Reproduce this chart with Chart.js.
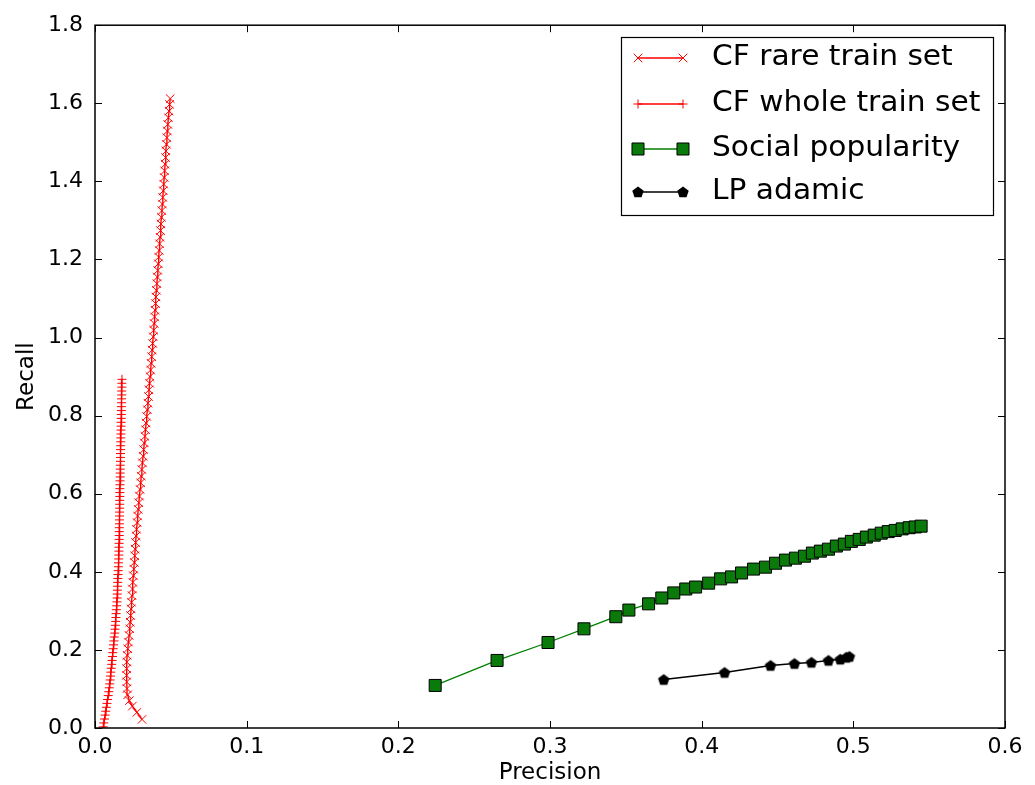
<!DOCTYPE html>
<html>
<head>
<meta charset="utf-8">
<script src="https://cdn.jsdelivr.net/npm/chart.js@4/dist/chart.umd.min.js"></script>
<style>
html,body{margin:0;padding:0;background:#fff;}
#wrap{width:1035px;height:785px;}
</style>
</head>
<body>
<div id="wrap"><canvas id="c" width="1035" height="785"></canvas></div>
<script>
// ---------- DATA ----------
const seriesNames = ["CF rare train set", "CF whole train set", "Social popularity", "LP adamic"];
const xTickLabels = ["0.0", "0.1", "0.2", "0.3", "0.4", "0.5", "0.6"];
const yTickLabels = ["0.0", "0.2", "0.4", "0.6", "0.8", "1.0", "1.2", "1.4", "1.6", "1.8"];
const xAxisTitle = "Precision";
const yAxisTitle = "Recall";

const rarePrecision = [0.0310,0.0276,0.0246,0.0226,0.0215,0.0211,0.0209,0.0208,0.0209,0.0210,
  0.0212,0.0216,0.0221,0.0225,0.0229,0.0232,0.0235,0.0238,0.0241,0.0244,
  0.0247,0.0250,0.0253,0.0256,0.0259,0.0262,0.0265,0.0268,0.0271,0.0274,
  0.0278,0.0281,0.0285,0.0289,0.0293,0.0297,0.0301,0.0305,0.0309,0.0313,
  0.0317,0.0321,0.0325,0.0329,0.0333,0.0337,0.0341,0.0345,0.0349,0.0353,
  0.0356,0.0360,0.0363,0.0367,0.0370,0.0374,0.0377,0.0380,0.0384,0.0387,
  0.0390,0.0393,0.0396,0.0399,0.0402,0.0405,0.0408,0.0411,0.0414,0.0417,
  0.0420,0.0423,0.0426,0.0429,0.0432,0.0435,0.0438,0.0441,0.0444,0.0447,
  0.0450,0.0453,0.0456,0.0459,0.0462,0.0465,0.0468,0.0471,0.0474,0.0477,
  0.0480,0.0484,0.0488,0.0492,0.0496];
const rareRecall = [0.022,0.040,0.056,0.070,0.085,0.101,0.118,0.135,0.152,0.169,
  0.186,0.203,0.220,0.237,0.254,0.271,0.288,0.305,0.322,0.339,
  0.356,0.373,0.390,0.407,0.424,0.441,0.458,0.475,0.492,0.509,
  0.526,0.543,0.560,0.577,0.594,0.611,0.628,0.645,0.662,0.679,
  0.696,0.713,0.730,0.747,0.764,0.781,0.798,0.815,0.832,0.849,
  0.866,0.883,0.900,0.917,0.934,0.951,0.968,0.985,1.002,1.019,
  1.036,1.053,1.070,1.087,1.104,1.121,1.138,1.155,1.172,1.189,
  1.206,1.223,1.240,1.257,1.274,1.291,1.308,1.325,1.342,1.359,
  1.376,1.393,1.410,1.427,1.444,1.461,1.478,1.495,1.512,1.529,
  1.546,1.563,1.580,1.597,1.612];

const wholePrecision = [0.0054,0.0058,0.0063,0.0067,0.0071,0.0075,0.0079,0.0083,0.0087,0.0091,
  0.0094,0.0097,0.0100,0.0102,0.0105,0.0107,0.0110,0.0112,0.0115,0.0117,
  0.0120,0.0122,0.0125,0.0127,0.0130,0.0132,0.0134,0.0136,0.0138,0.0139,
  0.0141,0.0143,0.0145,0.0146,0.0147,0.0148,0.0149,0.0150,0.0151,0.0152,
  0.0153,0.0154,0.0155,0.0156,0.0157,0.0158,0.0158,0.0159,0.0159,0.0160,
  0.0160,0.0160,0.0161,0.0161,0.0162,0.0162,0.0163,0.0163,0.0163,0.0164,
  0.0164,0.0164,0.0165,0.0165,0.0166,0.0166,0.0167,0.0167,0.0168,0.0168,
  0.0168,0.0169,0.0169,0.0170,0.0170,0.0171,0.0171,0.0172,0.0172,0.0173,
  0.0173,0.0174,0.0174,0.0175,0.0175,0.0176,0.0176,0.0177,0.0177,0.0178];
const wholeRecall = [0.003,0.013,0.023,0.033,0.043,0.053,0.063,0.073,0.083,0.093,
  0.103,0.113,0.123,0.133,0.143,0.153,0.163,0.173,0.183,0.193,
  0.203,0.213,0.223,0.233,0.243,0.253,0.263,0.273,0.283,0.293,
  0.303,0.313,0.323,0.333,0.343,0.353,0.363,0.373,0.383,0.393,
  0.403,0.413,0.423,0.433,0.443,0.453,0.463,0.473,0.483,0.493,
  0.503,0.513,0.523,0.533,0.543,0.553,0.563,0.573,0.583,0.593,
  0.603,0.613,0.623,0.633,0.643,0.653,0.663,0.673,0.683,0.693,
  0.703,0.713,0.723,0.733,0.743,0.753,0.763,0.773,0.783,0.793,
  0.803,0.813,0.823,0.833,0.843,0.853,0.863,0.873,0.883,0.893];

const socialPrecision = [0.2243,0.2651,0.2987,0.3224,0.3434,0.3520,0.3650,0.3737,0.3816,0.3895,
  0.3960,0.4046,0.4125,0.4197,0.4263,0.4342,0.4421,0.4487,0.4553,0.4618,
  0.4678,0.4730,0.4783,0.4836,0.4888,0.4941,0.4987,0.5039,0.5086,0.5138,
  0.5184,0.5230,0.5276,0.5322,0.5368,0.5408,0.5447];
const socialRecall = [0.109,0.173,0.219,0.254,0.285,0.302,0.318,0.333,0.346,0.356,
  0.361,0.371,0.382,0.387,0.397,0.407,0.412,0.422,0.430,0.435,
  0.440,0.448,0.453,0.458,0.466,0.471,0.478,0.483,0.489,0.494,
  0.499,0.503,0.506,0.510,0.513,0.515,0.517];

const adamicPrecision = [0.3750,0.4151,0.4454,0.4612,0.4724,0.4836,0.4914,0.4954,0.4974];
const adamicRecall = [0.124,0.142,0.160,0.165,0.168,0.173,0.176,0.181,0.183];

// ---------- STYLE HELPERS ----------
function pentagonImage(r, color) {
  const size = Math.ceil(r * 2 + 2);
  const cv = document.createElement('canvas');
  cv.width = size; cv.height = size;
  const g = cv.getContext('2d');
  g.beginPath();
  for (let i = 0; i < 5; i++) {
    const a = -Math.PI / 2 + i * 2 * Math.PI / 5;
    const px = size / 2 + r * Math.cos(a), py = size / 2 + r * Math.sin(a) + 0.5;
    if (i === 0) g.moveTo(px, py); else g.lineTo(px, py);
  }
  g.closePath();
  g.fillStyle = color; g.fill();
  return cv;
}
const pent = pentagonImage(6, '#000');

function pts(xs, ys) { return xs.map((x, i) => ({x: x, y: ys[i]})); }

const FONT = "'DejaVu Sans', 'Liberation Sans', sans-serif";

// ---------- PLUGINS ----------
const frameTicks = {
  id: 'frameTicks',
  afterDatasetsDraw(chart) {
    const {ctx, chartArea: a, scales} = chart;
    ctx.save();
    ctx.strokeStyle = '#000';
    ctx.lineWidth = 1;
    const L = 7;
    scales.x.ticks.forEach(t => {
      const px = Math.round(scales.x.getPixelForValue(t.value)) + 0.5;
      ctx.beginPath();
      ctx.moveTo(px, a.bottom); ctx.lineTo(px, a.bottom - L);
      ctx.moveTo(px, a.top); ctx.lineTo(px, a.top + L);
      ctx.stroke();
    });
    scales.y.ticks.forEach(t => {
      const py = Math.round(scales.y.getPixelForValue(t.value)) + 0.5;
      ctx.beginPath();
      ctx.moveTo(a.left, py); ctx.lineTo(a.left + L, py);
      ctx.moveTo(a.right, py); ctx.lineTo(a.right - L, py);
      ctx.stroke();
    });
    ctx.lineWidth = 1.5;
    ctx.strokeRect(a.left, a.top, a.right - a.left, a.bottom - a.top);
    ctx.restore();
  }
};

const boxLegend = {
  id: 'boxLegend',
  afterDraw(chart) {
    const {ctx} = chart;
    const bx = 621, by = 37, bw = 372, bh = 178;
    ctx.save();
    ctx.fillStyle = '#fff';
    ctx.fillRect(bx, by, bw, bh);
    ctx.strokeStyle = '#000';
    ctx.lineWidth = 1.2;
    ctx.strokeRect(bx + 0.5, by + 0.5, bw, bh);
    const rows = [58, 104, 149, 192];
    chart.data.datasets.forEach((ds, i) => {
      const y = rows[i];
      const x1 = 638, x2 = 683;
      ctx.strokeStyle = ds.borderColor;
      ctx.lineWidth = ds.borderWidth;
      ctx.beginPath(); ctx.moveTo(x1, y); ctx.lineTo(x2, y); ctx.stroke();
      const opt = {
        pointStyle: ds.pointStyle, radius: ds.pointRadius, rotation: 0,
        borderWidth: ds.pointBorderWidth
      };
      [x1, x2].forEach(px => {
        ctx.fillStyle = ds.pointBackgroundColor;
        ctx.strokeStyle = ds.pointBorderColor;
        ctx.lineWidth = ds.pointBorderWidth;
        Chart.helpers.drawPoint(ctx, opt, px, y);
      });
      ctx.save();
      ctx.fillStyle = '#000';
      ctx.font = "28px " + FONT;
      ctx.textBaseline = 'middle';
      ctx.textAlign = 'left';
      ctx.translate(712, y);
      ctx.scale(1.06, 1);
      ctx.fillText(ds.label, 0, 0);
      ctx.restore();
    });
    ctx.restore();
  }
};

// ---------- CHART ----------
const datasets = [
  {
    label: seriesNames[0], data: pts(rarePrecision, rareRecall),
    borderColor: '#ff0000', borderWidth: 1.4, showLine: true,
    pointStyle: 'crossRot', pointRadius: 6, pointBorderWidth: 1,
    pointBorderColor: '#ff0000', pointBackgroundColor: '#ff0000'
  },
  {
    label: seriesNames[1], data: pts(wholePrecision, wholeRecall),
    borderColor: '#ff0000', borderWidth: 1.4, showLine: true,
    pointStyle: 'cross', pointRadius: 4.5, pointBorderWidth: 1,
    pointBorderColor: '#ff0000', pointBackgroundColor: '#ff0000'
  },
  {
    label: seriesNames[2], data: pts(socialPrecision, socialRecall),
    borderColor: '#008000', borderWidth: 1.3, showLine: true,
    pointStyle: 'rect', pointRadius: 8.5, pointBorderWidth: 1,
    pointBorderColor: '#000', pointBackgroundColor: '#0a7a0a'
  },
  {
    label: seriesNames[3], data: pts(adamicPrecision, adamicRecall),
    borderColor: '#000', borderWidth: 1.5, showLine: true,
    pointStyle: pent, pointRadius: 6, pointBorderWidth: 1,
    pointBorderColor: '#000', pointBackgroundColor: '#000'
  }
];
datasets.forEach((d, i) => { d.order = 3 - i; d.tension = 0; d.fill = false; d.pointHoverRadius = d.pointRadius; });

new Chart(document.getElementById('c'), {
  type: 'scatter',
  data: {datasets: datasets},
  options: {
    responsive: false,
    animation: false,
    devicePixelRatio: 1,
    layout: {padding: {top: 21, right: 30, left: 0, bottom: 0}},
    plugins: {legend: {display: false}, tooltip: {enabled: false}},
    scales: {
      x: {
        type: 'linear', min: 0, max: 0.6,
        grid: {display: false, drawTicks: false},
        border: {display: false},
        ticks: {
          stepSize: 0.1, padding: 6, color: '#000',
          font: {family: FONT, size: 22},
          maxRotation: 0, autoSkip: false,
          callback: (v, i) => xTickLabels[i]
        },
        title: {display: true, text: xAxisTitle, color: '#000',
          font: {family: FONT, size: 23, lineHeight: 1}, padding: {top: 0, bottom: 0}},
        afterFit(s) { s.height = 57; }
      },
      y: {
        type: 'linear', min: 0, max: 1.8,
        grid: {display: false, drawTicks: false},
        border: {display: false},
        ticks: {
          stepSize: 0.2, padding: 12, color: '#000',
          font: {family: FONT, size: 22},
          autoSkip: false,
          callback: (v, i) => yTickLabels[i]
        },
        title: {display: true, text: yAxisTitle, color: '#000',
          font: {family: FONT, size: 23, lineHeight: 1}, padding: {top: 16, bottom: 0}},
        afterFit(s) { s.width = 95; }
      }
    }
  },
  plugins: [frameTicks, boxLegend]
});
</script>
</body>
</html>
